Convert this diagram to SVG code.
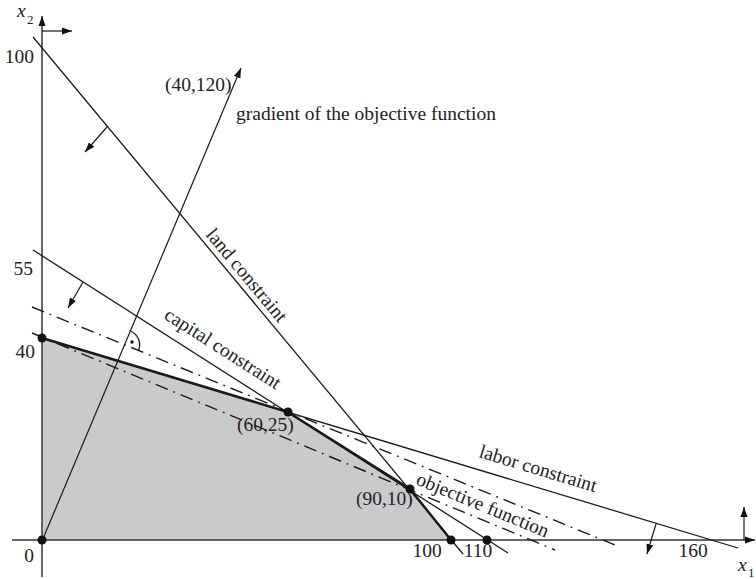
<svg xmlns="http://www.w3.org/2000/svg" width="756" height="579" viewBox="0 0 756 579">
<defs>
<marker id="ah" markerUnits="userSpaceOnUse" markerWidth="11" markerHeight="8" refX="10" refY="4" orient="auto">
<path d="M0,0.5 L10,4 L0,7.5 z" fill="#111"/>
</marker>
</defs>
<style>
.t{font-family:"Liberation Serif","Times New Roman",serif;font-size:19.5px;fill:#222}
.i{font-style:italic}
.s{font-size:13px}
.ln{stroke:#1a1a1a;stroke-width:1.3;fill:none}
.th{stroke:#1a1a1a;stroke-width:2.4;fill:none}
.ax{stroke:#333;stroke-width:1.5;fill:none}
.dd{stroke:#1a1a1a;stroke-width:1.4;fill:none;stroke-dasharray:13 6 1.8 6}
.ar{stroke:#1a1a1a;stroke-width:1.2;fill:none;marker-end:url(#ah)}
.dot{fill:#111}
</style>
<rect width="756" height="579" fill="#fff"/>
<g id="feasible-region">
<polygon points="42,338 288,412 410,489 451,540 42,540" fill="#c9cacc"/>
</g>
<g id="axes">
<line class="ax" x1="42" y1="577" x2="42" y2="16" marker-end="url(#ah)"/>
<line class="ax" x1="12" y1="540" x2="755" y2="540" marker-end="url(#ah)"/>
<line class="ar" x1="42" y1="31" x2="72" y2="31"/>
<line class="ar" x1="744" y1="540" x2="744" y2="507"/>
</g>
<g id="connectors">
<line id="land-line" class="ln" x1="33" y1="37" x2="463" y2="554"/>
<line id="capital-line" class="ln" x1="33" y1="250" x2="508" y2="553"/>
<line id="labor-line" class="ln" x1="42" y1="338" x2="738" y2="548"/>
<line id="objective-a" class="dd" x1="32" y1="307" x2="620" y2="547"/>
<line id="objective-b" class="dd" x1="32" y1="333" x2="555" y2="550"/>
<polyline id="boundary" class="th" points="42,338 288,412 410,489 451,540"/>
<line id="gradient" class="ar" x1="42" y1="541" x2="241" y2="68"/>
<line class="ar" x1="107" y1="127" x2="85" y2="152"/>
<line class="ar" x1="83" y1="282" x2="68" y2="308"/>
<line class="ar" x1="656" y1="524" x2="647" y2="554"/>
<path d="M130.4,331 A15,15 0 0,1 138.5,350.5" class="ln"/>
<circle cx="132" cy="342" r="1.7" class="dot"/>
</g>
<g id="points">
<circle cx="42" cy="540" r="4.5" class="dot"/>
<circle cx="42" cy="338" r="4.5" class="dot"/>
<circle cx="288" cy="412" r="4.5" class="dot"/>
<circle cx="410" cy="489" r="4.5" class="dot"/>
<circle cx="451" cy="540" r="4.5" class="dot"/>
<circle cx="487" cy="540" r="4.5" class="dot"/>
</g>
<g id="labels">
<text class="t i" x="17" y="17">x</text><text class="t s" x="27" y="24">2</text>
<text class="t i" x="738" y="571">x</text><text class="t s" x="748" y="577">1</text>
<text class="t" x="34" y="63" text-anchor="end">100</text>
<text class="t" x="33" y="275" text-anchor="end">55</text>
<text class="t" x="35" y="358" text-anchor="end">40</text>
<text class="t" x="29" y="562" text-anchor="middle">0</text>
<text class="t" x="427" y="557" text-anchor="middle">100</text>
<text class="t" x="478" y="557" text-anchor="middle">110</text>
<text class="t" x="693" y="557" text-anchor="middle">160</text>
<text class="t" x="165" y="91">(40,120)</text>
<text class="t" x="236" y="120">gradient of the objective function</text>
<text class="t" x="237" y="431">(60,25)</text>
<text class="t" x="356" y="505">(90,10)</text>
<text class="t" transform="translate(205,235) rotate(50.2)">land constraint</text>
<text class="t" transform="translate(163,318) rotate(32.5)">capital constraint</text>
<text class="t" transform="translate(478,457) rotate(16.8)">labor constraint</text>
<text class="t" transform="translate(415,484) rotate(22.3)">objective function</text>
</g>
</svg>
